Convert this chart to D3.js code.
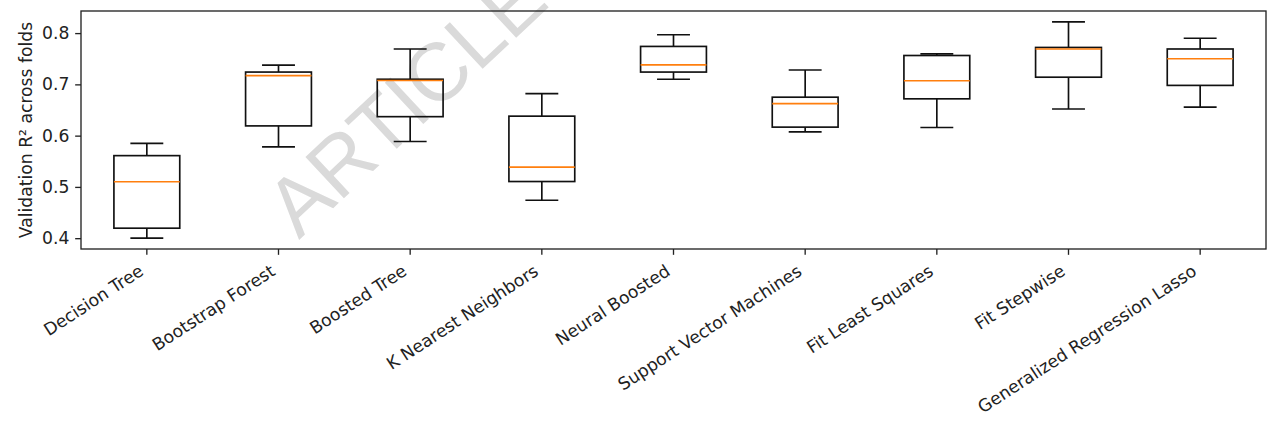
<!DOCTYPE html>
<html><head><meta charset="utf-8">
<script src="https://cdn.jsdelivr.net/npm/d3@7"></script>
<style>html,body{margin:0;padding:0;background:#fff;}svg{display:block;}</style>
</head><body>
<div id="chart"></div>
<script>
// ---- data ----
const categories = ["Decision Tree","Bootstrap Forest","Boosted Tree","K Nearest Neighbors","Neural Boosted","Support Vector Machines","Fit Least Squares","Fit Stepwise","Generalized Regression Lasso"];
const whiskerLow  = [0.400, 0.578, 0.5885, 0.474, 0.710, 0.6074, 0.6158, 0.652, 0.6556];
const q1          = [0.4195,0.619, 0.637, 0.5105, 0.724, 0.6166, 0.6718, 0.714, 0.698];
const medians     = [0.510, 0.717, 0.7075, 0.5385, 0.738, 0.6626, 0.707, 0.769, 0.750];
const q3          = [0.561, 0.724, 0.710, 0.638, 0.774, 0.675, 0.7563, 0.772, 0.769];
const whiskerHigh = [0.585, 0.7376, 0.769, 0.682, 0.7967, 0.728, 0.7596, 0.822, 0.790];
const yTicks = [0.4, 0.5, 0.6, 0.7, 0.8];
const yLabel = "Validation R\u00B2 across folds";
const watermark = "ARTICLE IN PRESS";

const W = 1268, H = 426;
const m = {left: 81, right: 2, top: 11, bottom: H - 249};
const font = "'DejaVu Sans', sans-serif";
const fs = 17.2;
const pt = 120 / 72; // px per pt

const svg = d3.select("#chart").append("svg").attr("width", W).attr("height", H);
svg.append("rect").attr("width", W).attr("height", H).attr("fill", "#fff");

// watermark
svg.append("text").attr("transform", "translate(299,240) rotate(-43)")
  .attr("font-family", "'Liberation Sans', Arial, sans-serif").attr("font-size", 82)
  .attr("fill", "#dadada").text(watermark);

const g = svg.append("g");

const x = d3.scaleBand().domain(categories).range([m.left, W - m.right]).paddingInner(0).paddingOuter(0);
const ext = [d3.min(whiskerLow), d3.max(whiskerHigh)];
const pad = (ext[1] - ext[0]) * 0.05;
const y = d3.scaleLinear().domain([ext[0] - pad, ext[1] + pad]).range([H - m.bottom, m.top]);
const bw = x.bandwidth();
const cx = c => x(c) + bw / 2;

const data = categories.map((c, i) => ({c, lo: whiskerLow[i], q1: q1[i], med: medians[i], q3: q3[i], hi: whiskerHigh[i]}));
const lw = 1.0 * pt;

const boxes = g.append("g").selectAll("g").data(data).join("g");
// whiskers
boxes.append("line").attr("x1", d => cx(d.c)).attr("x2", d => cx(d.c)).attr("y1", d => y(d.q3)).attr("y2", d => y(d.hi)).attr("stroke", "#111").attr("stroke-width", lw);
boxes.append("line").attr("x1", d => cx(d.c)).attr("x2", d => cx(d.c)).attr("y1", d => y(d.q1)).attr("y2", d => y(d.lo)).attr("stroke", "#111").attr("stroke-width", lw);
// caps
boxes.append("line").attr("x1", d => cx(d.c) - bw * 0.125).attr("x2", d => cx(d.c) + bw * 0.125).attr("y1", d => y(d.hi)).attr("y2", d => y(d.hi)).attr("stroke", "#111").attr("stroke-width", lw);
boxes.append("line").attr("x1", d => cx(d.c) - bw * 0.125).attr("x2", d => cx(d.c) + bw * 0.125).attr("y1", d => y(d.lo)).attr("y2", d => y(d.lo)).attr("stroke", "#111").attr("stroke-width", lw);
// box
boxes.append("rect").attr("x", d => cx(d.c) - bw * 0.25).attr("width", bw * 0.5)
  .attr("y", d => y(d.q3)).attr("height", d => y(d.q1) - y(d.q3))
  .attr("fill", "none").attr("stroke", "#111").attr("stroke-width", lw);
// median
boxes.append("line").attr("x1", d => cx(d.c) - bw * 0.25).attr("x2", d => cx(d.c) + bw * 0.25).attr("y1", d => y(d.med)).attr("y2", d => y(d.med)).attr("stroke", "#ff7f0e").attr("stroke-width", lw);

// axes
const tickLen = 3.5 * pt, tickPad = 3.5 * pt;
const yAxis = g.append("g").attr("transform", `translate(${m.left},0)`)
  .call(d3.axisLeft(y).tickValues(yTicks).tickFormat(d3.format(".1f")).tickSize(tickLen).tickPadding(tickPad));
yAxis.select(".domain").remove();
yAxis.selectAll("line").attr("stroke", "#222").attr("stroke-width", 0.8 * pt);
yAxis.selectAll("text").attr("font-family", font).attr("font-size", fs).attr("fill", "#222");

const rot = 33, rr = rot * Math.PI / 180;
const xAxis = g.append("g").attr("transform", `translate(0,${H - m.bottom})`)
  .call(d3.axisBottom(x).tickSize(tickLen).tickPadding(0));
xAxis.select(".domain").remove();
xAxis.selectAll("line").attr("stroke", "#222").attr("stroke-width", 0.8 * pt);
xAxis.selectAll("text").attr("font-family", font).attr("font-size", fs).attr("fill", "#222")
  .attr("text-anchor", "end").attr("y", 0).attr("dy", null)
  .attr("transform", `translate(${-0.236 * fs * Math.sin(rr)},${tickLen + tickPad + 0.93 * fs * Math.cos(rr)}) rotate(-${rot})`);

// frame
g.append("rect").attr("x", m.left).attr("y", m.top).attr("width", W - m.right - m.left).attr("height", H - m.bottom - m.top)
  .attr("fill", "none").attr("stroke", "#222").attr("stroke-width", 0.8 * pt);

// y label
g.append("text").attr("transform", `translate(32,${(m.top + H - m.bottom) / 2}) rotate(-90)`)
  .attr("text-anchor", "middle")
  .attr("font-family", font).attr("font-size", fs).attr("fill", "#222").text(yLabel);
</script>
</body></html>
